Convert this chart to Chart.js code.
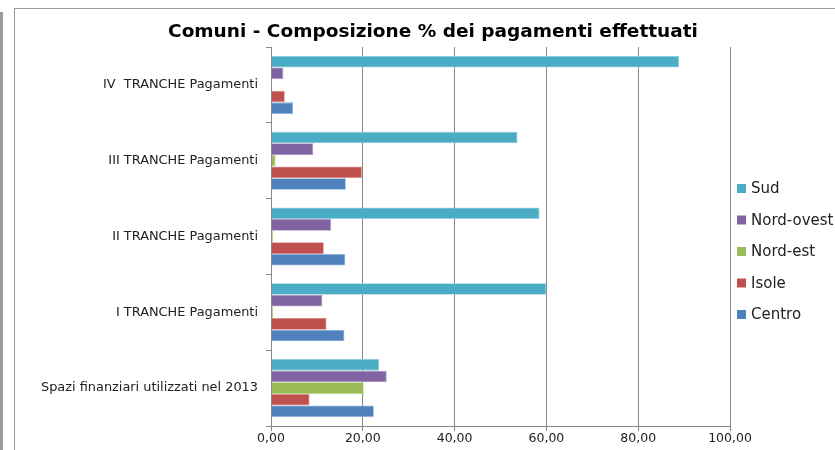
<!DOCTYPE html>
<html><head><meta charset="utf-8">
<script src="https://cdn.jsdelivr.net/npm/chart.js@4"></script>
<style>
html,body{margin:0;padding:0;background:#fff;}
#wrap{position:relative;width:835px;height:450px;overflow:hidden;}
#strip{position:absolute;left:0;top:12px;width:3px;height:438px;background:#999;}
#frame{position:absolute;left:14px;top:8px;width:840px;height:460px;border:1px solid #999;box-sizing:border-box;}
canvas{position:absolute;left:0;top:0;}
</style></head>
<body><div id="wrap"><div id="strip"></div><div id="frame"></div><canvas id="c" width="835" height="450"></canvas></div>
<script>
const categories = ["IV  TRANCHE Pagamenti","III TRANCHE Pagamenti","II TRANCHE Pagamenti","I TRANCHE Pagamenti","Spazi finanziari utilizzati nel 2013"];
const seriesNames = ["Sud","Nord-ovest","Nord-est","Isole","Centro"];
const sud       = [88.9, 53.7, 58.5, 60.0, 23.6];
const nordOvest = [2.7, 9.2, 13.1, 11.2, 25.2];
const nordEst   = [0.2, 1.0, 0.5, 0.5, 20.2];
const isole     = [3.0, 19.8, 11.5, 12.1, 8.4];
const centro    = [4.8, 16.3, 16.2, 16.0, 22.4];
const xTicks = [0, 20, 40, 60, 80, 100];
const colors = ["#4BACC6","#8064A2","#9BBB59","#C0504D","#4F81BD"];
const edgeColors = ["#8fd0e1","#a892c2","#bcd68d","#d98a88","#89aedb"];
const values = [sud, nordOvest, nordEst, isole, centro];

const datasets = seriesNames.map((n,i)=>({
  label:n, data:values[i], backgroundColor:colors[i],
  borderColor:edgeColors[i], borderWidth:0.8,
  barPercentage:1.0, categoryPercentage:0.767
}));

const sideLegend = {
  id:'sideLegend',
  afterDraw(chart){
    const ctx = chart.ctx, ca = chart.chartArea;
    const ds = chart.data.datasets;
    const step = 31.5;
    const midY = (ca.top + ca.bottom)/2 + 15;
    const x = ca.right + 7;
    ctx.save();
    ctx.font = '15px "DejaVu Sans"';
    ctx.textBaseline = 'middle';
    ctx.textAlign = 'left';
    ds.forEach((d,i)=>{
      const y = midY + (i - (ds.length-1)/2)*step;
      ctx.fillStyle = d.backgroundColor;
      ctx.fillRect(x, y-4.5, 9, 9);
      ctx.fillStyle = '#222';
      ctx.fillText(d.label, x+14, y+1);
    });
    ctx.restore();
  }
};

new Chart(document.getElementById('c'), {
  type:'bar',
  data:{labels:categories, datasets},
  plugins:[sideLegend],
  options:{
    indexAxis:'y', responsive:false, animation:false,
    layout:{padding:{left:20,right:-11,top:17,bottom:4}},
    plugins:{
      title:{display:true,text:'Comuni - Composizione % dei pagamenti effettuati',
        font:{family:'DejaVu Sans',size:18.5,weight:'bold'},color:'#000',padding:{top:4,bottom:3.8}},
      legend:{display:false},
      tooltip:{enabled:false}
    },
    scales:{
      x:{min:0,max:100,
        afterBuildTicks:(s)=>{s.ticks = xTicks.map(v=>({value:v}));},
        ticks:{color:'#222',font:{family:'DejaVu Sans',size:12.5},padding:0,
          callback:(v)=>v.toFixed(2).replace('.',',')},
        grid:{color:'#888',lineWidth:1,drawTicks:true,tickLength:5},
        border:{display:true,color:'#888'}
      },
      y:{
        afterFit:(s)=>{s.width = 271-20;},
        ticks:{color:'#222',font:{family:'DejaVu Sans',size:12.9},padding:8},
        grid:{drawOnChartArea:false,drawTicks:true,tickLength:5,color:'#888'},
        border:{display:true,color:'#888'}
      },
      ySpace:{type:'category',position:'right',display:true,
        afterFit:(s)=>{s.width = 116;},
        ticks:{display:false},grid:{display:false},border:{display:false}
      }
    }
  }
});
</script></body></html>
